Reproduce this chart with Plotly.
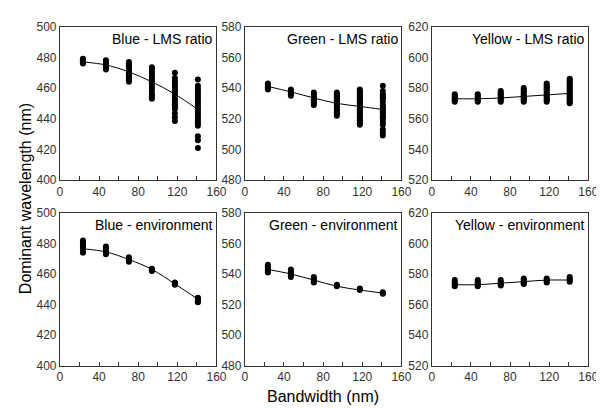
import plotly.graph_objects as go

bandwidth = [23.5, 47, 70.5, 94, 117.5, 141]

blue_lms = [
    [476, 476.5, 477, 477.5, 478, 478.5, 479],
    [472, 473, 474, 475, 475.5, 476, 477, 478],
    [464, 465, 466, 467, 468, 469, 470, 471, 472, 473, 474, 475, 476, 477],
    [453, 454.5, 456, 458, 460, 461.5, 463, 464.5, 466, 467.5, 469, 470.5, 472, 473.5],
    [438.5, 441, 443.5, 446.5, 448, 449.5, 451, 452.5, 454, 455.5, 457, 458.5, 460, 461.5, 463, 464.5, 466.5, 470],
    [421, 426, 428.5, 435.5, 437, 438.5, 440, 441.5, 443, 444.5, 446, 447.5, 449, 450.5, 452, 453.5, 455, 456.5, 458, 459.5, 461.5, 465.5],
]
blue_lms_fit = [477, 475, 470.5, 464, 456, 446]

green_lms = [
    [539, 540, 541, 542, 543],
    [535, 536, 537, 538, 539],
    [529, 530, 531, 532, 533, 534, 535, 536, 537],
    [522, 523, 524, 525, 526, 527, 528, 529, 530, 531, 532, 533, 534, 535, 536, 537],
    [516, 517, 518, 519, 520, 521, 522, 523, 524, 525, 526, 527, 528, 529, 530, 531, 532, 533, 534, 535, 536, 537, 538, 539],
    [509, 511, 513, 516, 518, 520, 521, 522, 523, 524, 525, 526, 527, 528, 529, 531, 533, 534, 535, 536, 538, 541.5],
]
green_lms_fit = [541, 537.5, 533.5, 530, 528, 526]

yellow_lms = [
    [571, 572, 573, 574, 575, 576],
    [571, 572, 573, 574, 575, 576],
    [571, 572, 573, 574, 575, 576, 577, 578],
    [571, 572, 573, 574, 575, 576, 577, 578, 579, 580],
    [571, 572, 573, 574, 575, 576, 577, 578, 579, 580, 581, 582, 583],
    [570, 571, 572, 573, 574, 575, 576, 577, 578, 579, 580, 581, 582, 583, 584, 585, 586],
]
yellow_lms_fit = [573, 573, 573.5, 574.5, 575.5, 576.5]

blue_env = [
    [474, 475, 476, 477, 478, 479, 480, 481, 482],
    [473, 474, 475, 476, 477, 478],
    [468, 469, 470, 471],
    [462, 462.5, 463, 463.5],
    [453, 453.5, 454, 454.5],
    [441.5, 442, 443, 444, 444.5],
]
blue_env_fit = [476.5, 474.5, 469.5, 463, 453.5, 443.5]

green_env = [
    [541, 542, 543, 544, 545, 546],
    [538, 539, 540, 541, 542, 543],
    [534.5, 535, 536, 537, 538],
    [532, 532.5, 533],
    [529.5, 530, 530.5],
    [527, 527.5, 528],
]
green_env_fit = [543, 540, 536, 532, 529.5, 527.5]

yellow_env = [
    [572, 573, 574, 575, 576],
    [572, 573, 574, 575, 576],
    [572.5, 573, 574, 575, 576],
    [573.5, 574, 575, 576, 577],
    [574.5, 575, 576, 577],
    [575, 576, 577, 578],
]
yellow_env_fit = [573, 573, 574, 575, 576, 576]

panels = [
    ("Blue - LMS ratio", blue_lms, blue_lms_fit, [400, 500]),
    ("Green - LMS ratio", green_lms, green_lms_fit, [480, 580]),
    ("Yellow - LMS ratio", yellow_lms, yellow_lms_fit, [520, 620]),
    ("Blue - environment", blue_env, blue_env_fit, [400, 500]),
    ("Green - environment", green_env, green_env_fit, [480, 580]),
    ("Yellow - environment", yellow_env, yellow_env_fit, [520, 620]),
]

W, H = 604, 408
xdoms = [(50, 210), (239, 399), (430, 590)]
ydoms = [(12, 171), (205, 363)]

fig = go.Figure()
font = "Liberation Sans, Arial, sans-serif"
annotations = []
for i, (title, cols, fit, yr) in enumerate(panels):
    r, c = divmod(i, 3)
    n = i + 1
    xa = "x" if n == 1 else f"x{n}"
    ya = "y" if n == 1 else f"y{n}"
    xs, ys = [], []
    for bw, col in zip(bandwidth, cols):
        for v in col:
            xs.append(bw)
            ys.append(v)
    fig.add_trace(go.Scatter(x=xs, y=ys, mode="markers", xaxis=xa, yaxis=ya,
                             marker=dict(color="black", size=6), showlegend=False))
    fig.add_trace(go.Scatter(x=bandwidth, y=fit, mode="lines", xaxis=xa, yaxis=ya,
                             line=dict(color="black", width=1, shape="spline"), showlegend=False))
    x0, x1 = xdoms[c]
    y0, y1 = ydoms[r]
    xkey = "xaxis" if n == 1 else f"xaxis{n}"
    ykey = "yaxis" if n == 1 else f"yaxis{n}"
    fig.layout[xkey] = dict(domain=[x0 / W, x1 / W], range=[0, 160], anchor=ya,
                            tickvals=[0, 40, 80, 120, 160], ticks="inside", ticklen=4,
                            tickcolor="#333", showgrid=False, zeroline=False,
                            showline=True, linecolor="#333", linewidth=1, mirror=True,
                            minor=dict(tickvals=[20, 60, 100, 140], ticks="inside", ticklen=4, tickcolor="#333"),
                            tickfont=dict(size=12, color="#333", family=font))
    fig.layout[ykey] = dict(domain=[1 - y1 / H, 1 - y0 / H], range=yr, anchor=xa,
                            dtick=20, ticks="", showgrid=False, zeroline=False,
                            showline=True, linecolor="#333", linewidth=1, mirror=True,
                            tickfont=dict(size=12, color="#333", family=font))
    annotations.append(dict(text=title, xref=f"{xa} domain", yref=f"{ya} domain",
                            x=0.99, y=0.985, xanchor="right", yanchor="top", showarrow=False,
                            font=dict(size=14, color="black", family=font)))

annotations.append(dict(text="Dominant wavelength (nm)", xref="paper", yref="paper",
                        x=15 / W, y=1 - 190 / H, textangle=-90, showarrow=False,
                        xanchor="center", yanchor="middle",
                        font=dict(size=16, color="black", family=font)))
annotations.append(dict(text="Bandwidth (nm)", xref="paper", yref="paper",
                        x=319 / W, y=1 - 395 / H, showarrow=False,
                        xanchor="center", yanchor="middle",
                        font=dict(size=16, color="black", family=font)))

fig.update_layout(width=W, height=H, margin=dict(l=0, r=0, t=0, b=0),
                  plot_bgcolor="white", paper_bgcolor="white", annotations=annotations)
fig.write_html("out.html")
